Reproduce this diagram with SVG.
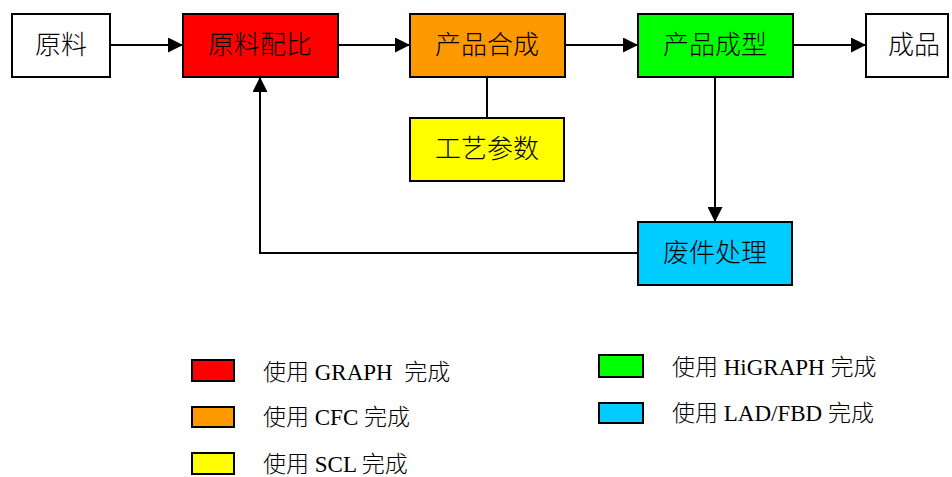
<svg xmlns="http://www.w3.org/2000/svg" width="952" height="477" viewBox="0 0 952 477">
<defs>
<style>
.box{stroke:#000;stroke-width:2}
.t{font-family:"Liberation Serif","Noto Sans CJK SC",serif;font-size:26px;font-weight:300;text-anchor:middle;dominant-baseline:central;fill:#000}
.l{font-family:"Liberation Serif","Noto Sans CJK SC",serif;font-size:23px;font-weight:300;dominant-baseline:central;fill:#000;white-space:pre}
.c{fill:none;stroke:#000;stroke-width:2}
</style>
<marker id="ah" viewBox="0 0 10 10" refX="10" refY="5" markerWidth="15" markerHeight="15" markerUnits="userSpaceOnUse" orient="auto">
<path d="M0,0 L10,5 L0,10 z" fill="#000"/>
</marker>
</defs>
<rect width="952" height="477" fill="#fff"/>
<g id="connectors">
<line class="c" x1="110" y1="45" x2="183" y2="45" marker-end="url(#ah)"/>
<line class="c" x1="338" y1="45" x2="410" y2="45" marker-end="url(#ah)"/>
<line class="c" x1="565" y1="45" x2="638" y2="45" marker-end="url(#ah)"/>
<line class="c" x1="793" y1="45" x2="866" y2="45" marker-end="url(#ah)"/>
<line class="c" x1="487" y1="77" x2="487" y2="118"/>
<line class="c" x1="715" y1="77" x2="715" y2="222" marker-end="url(#ah)"/>
<polyline class="c" points="638,253 260,253 260,77" marker-end="url(#ah)"/>
</g>
<g id="n-yuanliao"><rect class="box" x="12" y="14" width="98" height="63" fill="#fff"/><text class="t" x="61" y="45">原料</text></g>
<g id="n-peibi"><rect class="box" x="183" y="14" width="155" height="63" fill="#f00"/><text class="t" x="260" y="45">原料配比</text></g>
<g id="n-hecheng"><rect class="box" x="410" y="14" width="155" height="63" fill="#f90"/><text class="t" x="487" y="45">产品合成</text></g>
<g id="n-chengxing"><rect class="box" x="638" y="14" width="155" height="63" fill="#0f0"/><text class="t" x="715" y="45">产品成型</text></g>
<g id="n-chengpin"><rect class="box" x="866" y="14" width="82" height="63" fill="#fff"/><text class="t" x="914" y="45">成品</text></g>
<g id="n-gongyi"><rect class="box" x="410" y="118" width="154" height="63" fill="#ff0"/><text class="t" x="487" y="149">工艺参数</text></g>
<g id="n-feijian"><rect class="box" x="638" y="222" width="154" height="63" fill="#0cf"/><text class="t" x="715" y="253">废件处理</text></g>
<g id="legend">
<rect class="box" x="192" y="360" width="42" height="21" fill="#f00"/><text class="l" x="263" y="372" xml:space="preserve">使用 GRAPH  完成</text>
<rect class="box" x="192" y="407" width="42" height="20" fill="#f90"/><text class="l" x="263" y="417">使用 CFC 完成</text>
<rect class="box" x="192" y="453" width="42" height="21" fill="#ff0"/><text class="l" x="263" y="464">使用 SCL 完成</text>
<rect class="box" x="599" y="355" width="44" height="22" fill="#0f0"/><text class="l" x="672" y="367">使用 HiGRAPH 完成</text>
<rect class="box" x="599" y="403" width="44" height="20" fill="#0cf"/><text class="l" x="672" y="413">使用 LAD/FBD 完成</text>
</g>
</svg>
